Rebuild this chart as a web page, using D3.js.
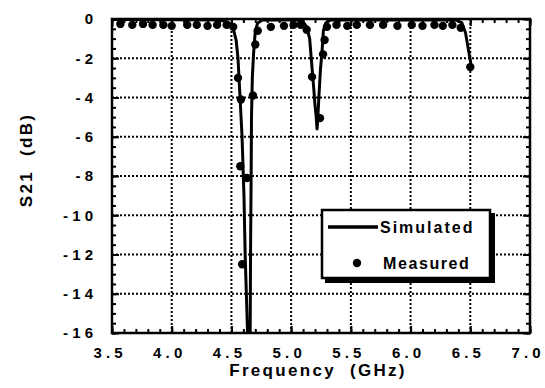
<!DOCTYPE html>
<html><head><meta charset="utf-8">
<script src="https://cdn.jsdelivr.net/npm/d3@7/dist/d3.min.js"></script>
<style>
html,body{margin:0;padding:0;background:#fff;}
svg text{font-family:"Liberation Sans",Arial,sans-serif;font-weight:bold;fill:#000;white-space:pre;}
</style></head>
<body>
<svg id="c" width="545" height="388"></svg>
<script>
// ---- data ----
const xTicks = [3.5, 4.0, 4.5, 5.0, 5.5, 6.0, 6.5, 7.0];
const yTicks = [0, -2, -4, -6, -8, -10, -12, -14, -16];
const simFreq = [3.5, 4.40, 4.47, 4.50, 4.52, 4.54, 4.555, 4.572, 4.589, 4.605, 4.615, 4.625, 4.635, 4.645, 4.652, 4.657, 4.660, 4.665, 4.668, 4.675, 4.685, 4.70, 4.72, 4.76, 5.05, 5.10, 5.13, 5.155, 5.175, 5.19, 5.20, 5.21, 5.217, 5.222, 5.232, 5.245, 5.258, 5.27, 5.29, 5.33, 6.38, 6.43, 6.46, 6.48, 6.50, 6.51];
const simDb   = [-0.02, -0.05, -0.15, -0.3, -0.6, -1.1, -2, -4, -6, -9, -12, -14, -16, -18, -18, -16, -12, -8, -5, -3, -1.8, -0.6, -0.2, -0.05, -0.05, -0.15, -0.4, -1, -2.5, -3.6, -4.4, -5, -5.6, -5.2, -4, -2.6, -1.7, -0.6, -0.2, -0.05, -0.05, -0.2, -0.7, -1.4, -2.1, -2.5];
const measFreq = [3.57, 3.67, 3.76, 3.84, 3.93, 4.00, 4.13, 4.21, 4.30, 4.38, 4.46, 4.515, 4.555, 4.58, 4.574, 4.63, 4.59, 4.68, 4.70, 4.72, 4.83, 4.94, 5.02, 5.08, 5.13, 5.175, 5.242, 5.267, 5.28, 5.30, 5.38, 5.47, 5.55, 5.66, 5.77, 5.89, 6.01, 6.10, 6.20, 6.27, 6.35, 6.42, 6.50];
const measDb   = [-0.25, -0.3, -0.25, -0.3, -0.3, -0.35, -0.3, -0.3, -0.35, -0.3, -0.3, -0.4, -3.0, -4.1, -7.5, -8.1, -12.5, -3.9, -1.3, -0.6, -0.4, -0.35, -0.3, -0.3, -0.55, -2.95, -5.05, -1.8, -1.07, -0.4, -0.3, -0.35, -0.3, -0.3, -0.3, -0.35, -0.3, -0.35, -0.3, -0.35, -0.3, -0.45, -2.45];
const legendLabels = ["Simulated", "Measured"];

// ---- layout ----
const svg = d3.select("#c");
const L = 112, R = 530, T = 19, B = 333;
const x = d3.scaleLinear().domain([3.5, 7.0]).range([L, R]);
const y = d3.scaleLinear().domain([-16, 0]).range([B, T]);

// dotted gridlines
const gridX = xTicks.slice(1, -1);
const gridY = yTicks.slice(1, -1);
const gridG = svg.append("g");
gridG.selectAll("line.dx").data(gridX).join("line").attr("class", "dx")
  .attr("x1", d => x(d)).attr("x2", d => x(d)).attr("y1", T).attr("y2", B)
  .attr("stroke", "#000").attr("stroke-width", 2).attr("stroke-dasharray", "2,2");
gridG.selectAll("line.dy").data(gridY).join("line").attr("class", "dy")
  .attr("x1", L).attr("x2", R).attr("y1", d => y(d)).attr("y2", d => y(d))
  .attr("stroke", "#000").attr("stroke-width", 2).attr("stroke-dasharray", "2,2");

// axes with inward ticks
const xMinor = d3.range(35, 71).map(v => v / 10);
const yMinor = d3.range(0, 33).map(v => -v / 2);
function noDomain(g) { g.select(".domain").remove(); g.selectAll("text").remove(); g.selectAll("line").attr("stroke", "#000").attr("stroke-width", 2); }
svg.append("g").attr("transform", `translate(0,${B})`).call(d3.axisBottom(x).tickValues(xMinor).tickSize(-4)).call(noDomain);
svg.append("g").attr("transform", `translate(0,${B})`).call(d3.axisBottom(x).tickValues(xTicks).tickSize(-7)).call(noDomain);
svg.append("g").attr("transform", `translate(0,${T})`).call(d3.axisTop(x).tickValues(xMinor).tickSize(-4)).call(noDomain);
svg.append("g").attr("transform", `translate(0,${T})`).call(d3.axisTop(x).tickValues(xTicks).tickSize(-7)).call(noDomain);
svg.append("g").attr("transform", `translate(${L},0)`).call(d3.axisLeft(y).tickValues(yMinor).tickSize(-4)).call(noDomain);
svg.append("g").attr("transform", `translate(${L},0)`).call(d3.axisLeft(y).tickValues(yTicks).tickSize(-7)).call(noDomain);
svg.append("g").attr("transform", `translate(${R},0)`).call(d3.axisRight(y).tickValues(yMinor).tickSize(-4)).call(noDomain);
svg.append("g").attr("transform", `translate(${R},0)`).call(d3.axisRight(y).tickValues(yTicks).tickSize(-7)).call(noDomain);

// tick labels
svg.append("g").selectAll("text").data(xTicks).join("text")
  .attr("x", d => x(d) - 4).attr("y", 358).attr("text-anchor", "middle")
  .attr("font-size", 15)
  .text(d => d3.format(".1f")(d).split("").join(" "));
svg.append("g").selectAll("text").data(yTicks).join("text")
  .attr("x", 93).attr("y", d => y(d)).attr("dy", "0.36em").attr("text-anchor", "end")
  .attr("font-size", 15)
  .text(d => d === 0 ? "0" : "- " + String(-d).split("").join(" "));

// axis titles
svg.append("text").attr("x", 318).attr("y", 376).attr("text-anchor", "middle")
  .attr("font-size", 17).style("letter-spacing", "2.3px").text("Frequency  (GHz)");
svg.append("text").attr("transform", "translate(32,160) rotate(-90)").attr("text-anchor", "middle")
  .attr("font-size", 17).style("letter-spacing", "2.3px").text("S21  (dB)");

// simulated line
const simData = simFreq.map((f, i) => [f, simDb[i]]);
svg.append("clipPath").attr("id", "clipArea")
  .append("rect").attr("x", L).attr("y", T).attr("width", R - L).attr("height", B - T);
svg.append("path").datum(simData).attr("clip-path", "url(#clipArea)")
  .attr("fill", "none").attr("stroke", "#000").attr("stroke-width", 3).attr("stroke-linejoin", "round")
  .attr("d", d3.line().x(d => x(d[0])).y(d => y(d[1])));

// measured points
const measData = measFreq.map((f, i) => [f, measDb[i]]);
svg.append("g").selectAll("circle").data(measData).join("circle")
  .attr("cx", d => x(d[0])).attr("cy", d => y(d[1])).attr("r", 4.2).attr("fill", "#000");

// frame
svg.append("rect").attr("x", L).attr("y", T).attr("width", R - L).attr("height", B - T)
  .attr("fill", "none").attr("stroke", "#000").attr("stroke-width", 2.5);

// legend
const lg = svg.append("g");
lg.append("rect").attr("x", 325).attr("y", 213).attr("width", 170).attr("height", 70).attr("fill", "#000");
lg.append("rect").attr("x", 322).attr("y", 210).attr("width", 168).attr("height", 68)
  .attr("fill", "#fff").attr("stroke", "#000").attr("stroke-width", 2.5);
lg.append("line").attr("x1", 328).attr("x2", 378).attr("y1", 227).attr("y2", 227)
  .attr("stroke", "#000").attr("stroke-width", 3.5);
lg.append("circle").attr("cx", 357).attr("cy", 263).attr("r", 4.2).attr("fill", "#000");
lg.selectAll("text").data(legendLabels).join("text")
  .attr("x", (d, i) => i === 0 ? 380 : 383).attr("y", (d, i) => i === 0 ? 227 : 263).attr("dy", "0.36em")
  .attr("font-size", 16).style("letter-spacing", (d, i) => i === 0 ? "2px" : "1.6px").text(d => d);
</script>
</body></html>
